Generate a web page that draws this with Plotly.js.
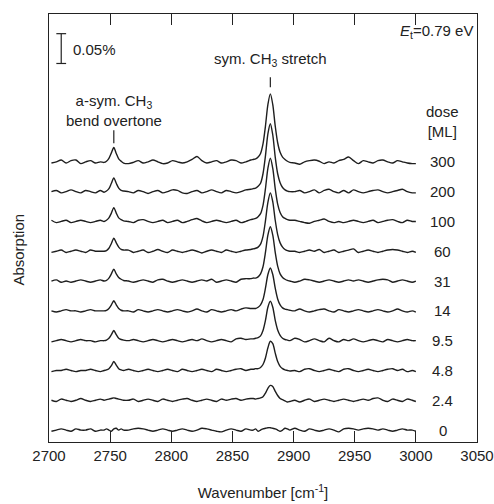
<!DOCTYPE html>
<html>
<head>
<meta charset="utf-8">
<script src="https://cdn.plot.ly/plotly-3.0.1.min.js"></script>
<style>html,body{margin:0;padding:0;background:#fff;}#plot{width:494px;height:504px;}</style>
</head>
<body>
<div id="plot"></div>
<script>
// Wavenumbers (cm^-1), denser sampling near the two bands
const wavenumber = [
  2702,2706,2710,2714,2718,2722,2726,2730,2734,2738,2742,
  2745,2747,2749,2751,2753,2755,2757,2759,2761,
  2765,2769,2773,2777,2781,2785,2789,2793,2797,2801,2805,2809,2813,2817,2821,2825,2829,2833,2837,2841,2845,2849,2853,2857,2861,2865,
  2867,2869,2871,2873,2875,2877,2879,2881,2883,2885,2887,2889,2891,2893,2895,2897,
  2901,2905,2909,2913,2917,2921,2925,2929,2933,2937,2941,2945,2949,2953,2957,2961,2965,2969,2973,2977,2981,2985,2989,2993,2997,3000
];

// Dose labels (ML), top spectrum first
const doses = ["300","200","100","60","31","14","9.5","4.8","2.4","0"];

// Absorption in units of 0.001 % (each spectrum relative to its own baseline)
const abs300 = [-2,0,3,-2,2,3,-3,0,2,-2,0,
  -1,1,6,15,24,14,5,1,-2,
  -3,-1,2,-2,0,3,0,-3,-2,2,0,-2,0,4,9,2,-2,0,2,-2,0,3,2,-2,0,3,
  4,5,8,14,30,60,96,114,96,60,32,16,8,4,1,-1,
  -2,-4,0,2,3,1,-3,0,-2,2,4,8,2,-3,2,0,-2,2,3,0,-2,2,0,-2,-3,-3];
const abs200 = [0,2,-2,0,3,0,-2,2,0,-2,2,
  -1,1,5,14,23,14,6,2,1,
  0,-2,2,0,-3,0,2,-2,0,3,2,-2,-3,0,2,-2,0,3,0,-2,2,0,-2,0,3,4,
  5,6,9,14,30,60,97,114,95,58,30,15,7,3,1,0,
  0,2,-2,0,3,-2,2,4,0,-2,2,-2,3,0,-2,0,2,3,0,-2,0,2,4,0,-2,-2];
const abs100 = [2,-2,0,2,-2,0,2,0,-2,0,2,
  0,2,6,14,23,14,6,3,1,
  0,-2,2,3,0,-2,0,2,-2,0,2,-2,0,3,5,1,-2,0,2,0,-2,0,2,-2,0,3,
  4,5,8,13,27,55,89,106,89,55,29,15,8,5,3,2,
  2,0,-2,-3,0,2,4,0,-2,0,-2,0,2,0,-2,0,2,-2,0,2,3,0,-2,2,0,0];
const abs60 = [-2,0,2,-2,0,2,0,-2,2,0,0,
  0,1,5,13,22,14,7,3,2,
  2,-2,0,2,-2,0,3,0,-2,2,0,-2,0,2,0,-3,0,2,0,-2,2,0,-2,0,2,3,
  4,5,7,12,25,51,82,98,83,52,28,14,7,3,1,0,
  0,-2,0,2,0,3,-2,0,2,-2,0,2,4,-2,0,2,0,-2,0,2,3,2,0,-2,0,-2];
const abs31 = [0,2,-2,0,-2,0,2,0,-2,0,2,
  0,1,5,12,20,12,6,3,1,
  0,-2,0,2,0,-2,2,3,0,-2,0,2,0,-2,0,2,0,3,-2,0,2,0,-2,3,4,4,
  5,5,7,12,24,48,77,91,77,48,25,12,6,3,1,0,
  -2,0,3,2,0,-2,0,2,0,-2,0,2,0,2,0,-2,0,2,3,2,-2,0,2,0,-2,0];
const abs14 = [0,-2,0,2,0,0,-2,0,2,0,0,
  0,1,4,10,17,10,4,1,0,
  0,-2,2,0,-2,0,2,0,-2,0,2,0,-2,0,3,0,-2,2,0,-2,0,2,0,3,5,4,
  4,4,6,10,19,38,61,72,61,38,20,10,5,3,2,1,
  0,3,0,-2,0,2,3,0,-2,2,0,-2,0,2,0,-2,0,2,0,-2,0,3,0,-2,0,-2];
const abs9p5 = [-2,0,2,0,-2,0,2,0,0,-2,0,
  0,1,4,10,17,10,4,2,1,
  0,2,0,-2,0,2,0,-2,0,2,0,-2,0,2,0,3,0,-2,0,2,0,-2,3,4,2,3,
  3,4,5,8,17,34,56,66,56,34,18,9,4,2,1,0,
  4,2,-2,0,3,0,-2,4,0,-2,2,0,3,0,-2,0,2,0,-2,2,0,-2,0,2,0,0];
const abs4p8 = [-2,0,0,2,0,-2,0,0,2,0,-2,
  0,1,3,8,15,9,3,1,0,
  2,0,-2,0,2,0,-2,0,2,0,-2,2,0,-2,0,2,0,-2,2,0,-2,0,2,3,0,2,
  2,3,3,5,10,21,38,49,45,29,15,7,3,1,0,-1,
  0,-2,2,3,0,-2,0,2,0,-2,2,3,0,-2,0,2,0,-2,0,2,3,0,2,-2,0,-2];
const abs2p4 = [0,-2,2,0,-2,0,3,0,-2,0,2,
  0,1,2,3,4,3,2,1,0,
  0,2,-2,0,2,0,-2,2,0,-2,0,2,3,0,-2,0,2,0,-2,2,0,2,3,0,2,3,
  3,2,3,4,6,12,20,25,23,15,8,3,1,-1,-3,-2,
  0,-3,0,2,-2,0,2,0,-2,0,2,0,-2,0,2,0,3,4,0,-2,2,0,-2,2,0,-2];
const abs0 = [-2,0,2,0,-2,2,0,0,2,-2,0,
  0,2,0,-2,2,3,0,2,0,
  0,2,3,2,0,-2,0,2,0,-2,0,2,0,-2,0,3,2,0,-2,-3,0,2,0,-2,2,0,
  0,2,-2,0,2,3,4,4,3,2,0,-2,0,3,2,0,
  3,0,-2,2,0,-2,0,2,0,-3,2,3,2,0,2,3,2,0,2,0,-2,0,2,0,0,-2];

const spectra = [abs300, abs200, abs100, abs60, abs31, abs14, abs9p5, abs4p8, abs2p4, abs0];

// vertical stacking step between spectra (0.05 %)
const step = 50;
const n = spectra.length;

const traces = spectra.map((s, i) => {
  const off = (n - 1 - i) * step;
  return {
    x: wavenumber,
    y: s.map(v => v + off),
    type: 'scatter',
    mode: 'lines',
    line: {color: '#1e1e1e', width: 1.4, shape: 'spline', smoothing: 0.8},
    hoverinfo: 'skip',
    showlegend: false
  };
});

const fontFam = '"Liberation Sans", Arial, Helvetica, sans-serif';
const txt = {family: fontFam, size: 15, color: '#222'};

const annotations = doses.map((d, i) => ({
  x: 3022, y: (n - 1 - i) * step, xref: 'x', yref: 'y',
  text: d, showarrow: false, xanchor: 'center', yanchor: 'middle', font: txt
}));
annotations.push(
  {x: 3022, y: 518, xref: 'x', yref: 'y', text: 'dose<br>[ML]', showarrow: false,
   xanchor: 'center', yanchor: 'middle', font: txt},
  {x: 2718, y: 638, xref: 'x', yref: 'y', text: '0.05%', showarrow: false,
   xanchor: 'left', yanchor: 'middle', font: txt},
  {x: 2881, y: 621, xref: 'x', yref: 'y', text: 'sym. CH<sub>3</sub> stretch', showarrow: false,
   xanchor: 'center', yanchor: 'middle', font: txt},
  {x: 2753, y: 536, xref: 'x', yref: 'y', text: 'a-sym. CH<sub>3</sub><br>bend overtone', showarrow: false,
   xanchor: 'center', yanchor: 'middle', font: txt},
  {x: 3048, y: 668, xref: 'x', yref: 'y', text: '<i>E</i><sub>t</sub>=0.79 eV', showarrow: false,
   xanchor: 'right', yanchor: 'middle', font: txt},
  {x: -0.072, y: 0.45, xref: 'paper', yref: 'paper', text: 'Absorption', textangle: -90,
   showarrow: false, xanchor: 'center', yanchor: 'middle', font: txt}
);

const ln = {color: '#222', width: 1.2};
const shapes = [
  {type: 'line', xref: 'x', yref: 'y', x0: 2710, x1: 2710, y0: 615, y1: 665, line: ln},
  {type: 'line', xref: 'x', yref: 'y', x0: 2706, x1: 2714, y0: 615, y1: 615, line: ln},
  {type: 'line', xref: 'x', yref: 'y', x0: 2706, x1: 2714, y0: 665, y1: 665, line: ln},
  {type: 'line', xref: 'x', yref: 'y', x0: 2881, x1: 2881, y0: 575, y1: 592, line: ln},
  {type: 'line', xref: 'x', yref: 'y', x0: 2753, x1: 2753, y0: 481, y1: 503, line: ln}
];

const layout = {
  width: 494, height: 504,
  margin: {l: 49, r: 17, t: 14, b: 62},
  paper_bgcolor: '#fff', plot_bgcolor: '#fff',
  font: txt,
  showlegend: false,
  xaxis: {
    range: [2700, 3050],
    tickvals: [2700,2750,2800,2850,2900,2950,3000,3050],
    ticktext: ['2700','2750','2800','2850','2900','2950','3000','3050'],
    ticks: 'inside', ticklen: 11, tickwidth: 1.2, tickcolor: '#222',
    showline: true, linecolor: '#222', linewidth: 1.2, mirror: 'ticks',
    showgrid: false, zeroline: false,
    tickfont: txt,
    title: {text: 'Wavenumber [cm<sup>-1</sup>]', font: txt, standoff: 24}
  },
  yaxis: {
    range: [-20, 698],
    showticklabels: false, ticks: '',
    showline: true, linecolor: '#222', linewidth: 1.2, mirror: true,
    showgrid: false, zeroline: false
  },
  annotations: annotations,
  shapes: shapes
};

Plotly.newPlot('plot', traces, layout, {displayModeBar: false, staticPlot: true});
</script>
</body>
</html>
